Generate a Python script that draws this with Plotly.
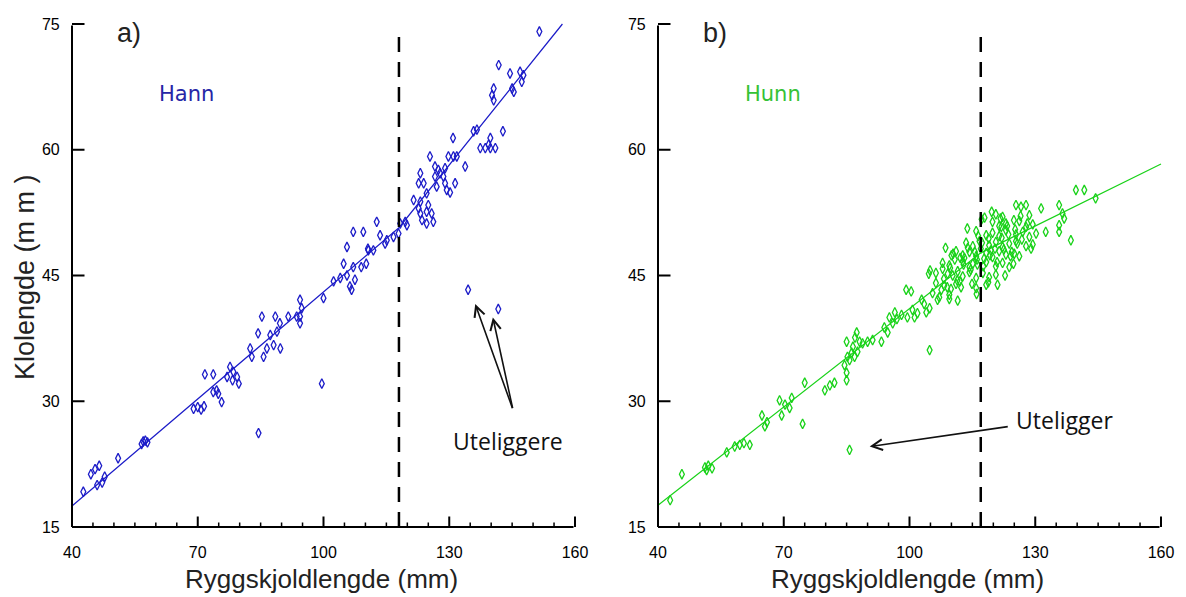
import plotly.graph_objects as go

# ---- Hann (males): carapace length vs claw length ----
hann_x = [42.7, 44.5, 46.5, 47.2, 46.0, 45.5, 47.8, 51.0, 57.0, 57.5, 56.6, 58.0,
          69.0, 70.0, 70.8, 71.5, 73.7, 74.9, 75.7, 74.5, 71.7, 73.7,
          77.7, 78.5, 77.0, 79.4, 79.8, 78.3, 82.5, 82.9,
          84.4, 87.3, 88.9, 85.7, 86.5, 88.1, 89.7,
          85.3, 88.5, 89.6, 91.6, 94.4, 94.4, 94.8, 94.4, 93.6,
          84.5, 99.6,
          100.0, 102.4, 104.0, 105.6, 107.1, 104.8, 106.3, 106.7, 107.5, 109.0, 110.2, 110.6, 105.6,
          107.1, 109.5, 112.7, 113.5, 115.1, 116.7, 117.9, 114.7, 110.7, 111.9,
          118.3, 119.5, 119.9,
          121.5, 123.1, 122.7, 123.1, 124.6, 125.0, 125.8, 123.5, 126.2, 124.6,
          123.1, 123.9, 122.7, 124.6, 127.0, 129.0, 131.4, 129.4, 130.2,
          126.6, 127.4, 129.0, 127.8, 128.6, 126.6,
          125.4, 129.8, 131.0, 131.8, 133.8, 130.9,
          135.8, 136.6, 139.8, 137.4, 138.6, 139.8, 141.0, 139.4, 142.8,
          140.6, 140.2, 140.6, 145.0, 145.4,
          144.5, 147.7, 147.3, 146.9, 141.8, 151.5,
          134.5, 141.7]
hann_y = [19.2, 21.3, 22.3, 20.3, 20.0, 21.9, 21.0, 23.2, 25.2, 25.3, 24.9, 25.1,
          29.1, 29.3, 29.0, 29.4, 31.1, 30.9, 29.9, 31.3, 33.2, 33.2,
          34.1, 33.5, 32.9, 32.9, 32.1, 32.5, 36.3, 35.3,
          38.1, 37.9, 38.3, 35.3, 36.3, 36.7, 36.3,
          40.1, 40.1, 39.3, 40.1, 40.1, 42.1, 41.1, 39.3, 40.1,
          26.2, 32.1,
          42.3, 44.3, 44.7, 45.0, 46.0, 46.4, 43.7, 43.3, 44.5, 46.0, 46.4, 48.2, 48.4,
          50.2, 50.2, 51.4, 49.8, 49.2, 49.6, 50.0, 48.8, 48.0, 48.0,
          51.2, 51.4, 51.0,
          54.0, 53.8, 53.0, 52.4, 52.6, 53.4, 52.4, 51.6, 51.4, 51.2,
          57.2, 56.0, 56.0, 54.8, 55.6, 56.0, 56.0, 55.2, 54.9,
          58.0, 57.6, 57.8, 57.2, 56.8, 56.8,
          59.2, 59.2, 59.2, 59.2, 58.0, 61.4,
          62.2, 62.4, 61.4, 60.2, 60.2, 60.2, 60.2, 60.6, 62.2,
          67.3, 66.5, 65.9, 67.3, 66.9,
          69.1, 68.9, 68.1, 69.3, 70.1, 74.1,
          43.3, 41.0]

# Piecewise fit for Hann, broken at the maturity size
hann_fit_x = [40, 118, 157]
hann_fit_y = [17.5, 50.7, 75.0]
hann_break = 118

# ---- Hunn (females) ----
hunn_x = [42.9, 45.7, 51.2, 52.0, 52.9, 51.6, 56.4, 59.5, 60.5, 61.9, 58.3,
          64.8, 66.0, 65.5, 69.0, 69.5, 71.4, 71.9, 70.3, 74.5,
          75.0, 79.8, 81.0, 82.1, 85.0, 85.0, 84.5, 85.7, 85.2, 86.2,
          85.0, 87.4, 88.1, 88.8, 90.0, 91.2, 93.3, 87.6, 86.9, 86.5, 87.0,
          94.0, 95.2, 94.8, 96.0, 98.1, 99.5, 101.2, 101.9, 100.7, 97.0, 96.5,
          99.2, 100.4, 102.9, 104.8, 105.5, 106.7, 107.6, 109.0, 109.5, 103.5, 104.0,
          104.8, 85.7,
          104.9, 106.3, 107.9, 109.1, 110.3, 111.5, 112.7, 114.3, 115.9, 117.5, 119.0, 120.6,
          107.9, 109.5, 112.7, 114.3, 115.1, 118.3, 120.6, 122.2, 123.8,
          111.1, 112.7, 114.3, 115.9, 118.3, 119.8, 121.4, 123.0, 125.0, 126.2,
          113.5, 115.1, 116.7, 119.0, 120.6, 122.2, 123.8, 125.4, 127.8, 129.4,
          115.9, 118.3, 119.8, 121.4, 123.0, 125.4, 127.0, 128.6, 130.2,
          119.8, 121.4, 123.0, 126.2, 127.8, 129.4,
          120.6, 122.2, 128.6, 125.4, 126.6, 127.8,
          106.3, 108.3, 109.9, 111.1, 112.3, 115.9, 118.3,
          107.1, 109.5, 111.5, 104.6,
          110.8, 113.1, 116.2, 117.0, 117.8, 112.0, 114.9, 116.4, 110.0, 108.6,
          118.8, 121.0, 119.4, 124.4, 122.8, 121.9, 117.2, 113.8, 116.0, 124.8,
          108.2, 109.7, 111.4, 112.9, 114.6, 116.1, 117.6, 119.2, 120.9, 122.5, 124.1, 125.7,
          110.4, 112.1, 113.9, 115.6, 117.3, 118.9, 120.4, 122.0, 123.6, 125.2, 126.8,
          121.7, 123.3, 124.9, 126.5, 128.1, 119.6, 117.9,
          131.4, 135.7, 136.5, 136.9, 135.7, 135.7, 132.5, 138.5, 139.7, 141.7, 144.4, 129.0]
hunn_y = [18.2, 21.3, 22.1, 22.3, 22.0, 21.8, 23.9, 24.8, 25.0, 24.8, 24.6,
          28.3, 27.5, 27.0, 30.1, 28.3, 29.2, 30.4, 29.6, 27.3,
          32.2, 31.3, 31.9, 32.2, 32.5, 33.4, 34.3, 34.9, 35.3, 35.8,
          37.1, 38.2, 37.1, 36.9, 37.1, 37.3, 37.1, 35.9, 35.3, 36.5, 37.6,
          38.8, 40.0, 38.2, 39.3, 40.3, 40.0, 40.0, 40.5, 40.9, 39.8, 40.6,
          43.3, 43.1, 42.1, 41.1, 42.9, 42.1, 43.3, 43.6, 42.7, 41.6, 40.6,
          36.1, 24.2,
          45.6, 45.3, 45.8, 45.2, 45.0, 45.5, 44.9, 45.4, 44.7, 45.3, 44.8, 45.1,
          46.5, 46.2, 46.7, 46.0, 46.4, 46.6, 46.1, 46.5, 46.0,
          47.9, 47.4, 47.8, 47.3, 47.7, 47.2, 47.9, 47.5, 47.6, 47.3,
          48.9, 48.5, 49.1, 48.6, 49.0, 48.4, 48.8, 49.1, 48.5, 48.7,
          50.3, 49.8, 50.1, 49.7, 50.4, 49.9, 50.2, 49.6, 50.0,
          51.4, 50.9, 51.2, 51.5, 50.8, 51.1,
          52.3, 52.0, 52.2, 53.4, 53.2, 53.4,
          44.1, 43.8, 43.4, 44.0, 43.6, 43.5, 43.9,
          42.4, 42.2, 42.0, 45.2,
          46.9, 47.1, 46.3, 48.2, 47.0, 44.3, 44.0, 49.7, 47.4, 48.3,
          44.2, 43.9, 48.0, 47.8, 45.0, 50.8, 51.7, 50.6, 42.8, 46.4,
          44.6, 45.9, 44.4, 46.3, 45.7, 46.9, 46.1, 47.4, 46.6, 48.1, 47.3, 48.8,
          47.6, 47.1, 48.3, 47.8, 48.9, 49.4, 48.2, 49.5, 49.9, 50.5, 49.3,
          51.8, 50.9, 51.6, 52.1, 51.2, 52.6, 51.9,
          53.0, 53.4, 52.4, 51.8, 51.0, 50.2, 50.2, 49.2, 55.2, 55.2, 54.2, 48.2]

# Piecewise fit for Hunn, broken at the maturity size
hunn_fit_x = [40, 117, 160]
hunn_fit_y = [17.6, 47.7, 58.3]
hunn_break = 117

# Axis settings shared by both panels
x_range = [40, 160]
y_range = [15, 75]
x_tick_step, x_minor_step = 30, 5
y_tick_step = 15

BLUE = "#1c1cc8"
GREEN = "#19d219"
TICK_FONT = dict(family="Liberation Sans", size=16, color="black")

W, H = 1186, 597
PLOT_PX = 503.0                       # plot box is 503 x 503 px
left_px = [72, 658]                   # left edge of each plot box
top_px, bottom_px = 24, 527
px_per_x = PLOT_PX / (x_range[1] - x_range[0])
px_per_y = PLOT_PX / (y_range[1] - y_range[0])
PAD = 2.1                             # small px margin around the frame
pad_x, pad_y = PAD / px_per_x, PAD / px_per_y

fig = go.Figure()


def add_panel(xa, ya, xs, ys, fit_x, fit_y, brk, color):
    fig.add_trace(go.Scatter(x=fit_x, y=fit_y, mode="lines",
                             line=dict(color=color, width=1.2), xaxis=xa, yaxis=ya))
    fig.add_trace(go.Scatter(x=xs, y=ys, mode="markers",
                             marker=dict(symbol="diamond-tall-open", size=7, color=color,
                                         line=dict(width=1.3, color=color)),
                             xaxis=xa, yaxis=ya))
    fig.add_trace(go.Scatter(x=[brk, brk], y=[y_range[0], 73.7], mode="lines",
                             line=dict(color="black", width=2.5, dash="15px,10px"),
                             xaxis=xa, yaxis=ya))


add_panel("x", "y", hann_x, hann_y, hann_fit_x, hann_fit_y, hann_break, BLUE)
add_panel("x2", "y2", hunn_x, hunn_y, hunn_fit_x, hunn_fit_y, hunn_break, GREEN)

y_dom = [(H - bottom_px - PAD) / H, (H - top_px + PAD) / H]


def x_axis(left, anchor):
    # transparent outside ticks only set the label distance from the frame
    return dict(domain=[(left - PAD) / W, (left + PLOT_PX + PAD) / W], anchor=anchor,
                range=[x_range[0] - pad_x, x_range[1] + pad_x],
                tickmode="linear", tick0=x_range[0], dtick=x_tick_step,
                showline=False, ticks="outside", ticklen=9, tickcolor="rgba(0,0,0,0)",
                showgrid=False, zeroline=False, tickfont=TICK_FONT, automargin=False)


def y_axis(anchor):
    return dict(domain=y_dom, anchor=anchor,
                range=[y_range[0] - pad_y, y_range[1] + pad_y],
                tickmode="linear", tick0=y_range[0], dtick=y_tick_step,
                showline=False, ticks="outside", ticklen=6, tickcolor="rgba(0,0,0,0)",
                showgrid=False, zeroline=False, tickfont=TICK_FONT, automargin=False)


fig.update_layout(
    width=W, height=H, margin=dict(l=0, r=0, t=0, b=0), showlegend=False,
    paper_bgcolor="white", plot_bgcolor="white", hovermode=False,
    xaxis=x_axis(left_px[0], "y"),
    yaxis=y_axis("x"),
    xaxis2=x_axis(left_px[1], "y2"),
    yaxis2=y_axis("x2"),
)

ann = []


def segment(xr, yr, x0, y0, x1, y1, width):
    # a plain line between two data points, drawn as a headless annotation arrow
    return dict(x=x1, y=y1, ax=x0, ay=y0, xref=xr, yref=yr, axref=xr, ayref=yr,
                text="", showarrow=True, arrowhead=0, arrowwidth=width,
                arrowcolor="black", standoff=0, startstandoff=0, font=dict(size=1))


# axis frame (left and bottom) with inward ticks for both panels
major_x = list(range(x_range[0], x_range[1] + 1, x_tick_step))
minor_x = [v for v in range(x_range[0], x_range[1] + 1, x_minor_step) if v not in major_x]
major_y = list(range(y_range[0], y_range[1] + 1, y_tick_step))
for xr, yr in [("x", "y"), ("x2", "y2")]:
    x0, y0 = x_range[0], y_range[0]
    ann.append(segment(xr, yr, x0, y_range[1], x0, y0, 2))
    ann.append(segment(xr, yr, x_range[1], y0, x0, y0, 2))
    for v in major_x:
        ann.append(segment(xr, yr, v, y0 + 12 / px_per_y, v, y0, 2))
    for v in minor_x:
        ann.append(segment(xr, yr, v, y0 + 6 / px_per_y, v, y0, 1.5))
    for v in major_y:
        ann.append(segment(xr, yr, x0 + 14 / px_per_x, v, x0, v, 2))

# panel letters and group names
for xr, yr, letter, name, col in [("x", "y", "a)", "Hann", "#2626a6"),
                                  ("x2", "y2", "b)", "Hunn", "#36c236")]:
    ann.append(dict(x=50.3, y=73.9, xref=xr, yref=yr, text=letter, showarrow=False,
                    xanchor="left", yanchor="middle",
                    font=dict(family="Liberation Sans", size=27, color="#222")))
    ann.append(dict(x=67.4, y=66.6, xref=xr, yref=yr, text=name, showarrow=False,
                    xanchor="center", yanchor="middle",
                    font=dict(family="DejaVu Sans", size=21, color=col)))

# axis titles
for cx in [321, 907]:
    ann.append(dict(x=cx / W, y=(H - 579) / H, xref="paper", yref="paper",
                    text="Ryggskjoldlengde (mm)", showarrow=False,
                    xanchor="center", yanchor="middle",
                    font=dict(family="Liberation Sans", size=26, color="#222")))
ann.append(dict(x=25 / W, y=(H - 277) / H, xref="paper", yref="paper",
                text="Klolengde (m m )", showarrow=False, textangle=-90,
                xanchor="center", yanchor="middle",
                font=dict(family="Liberation Sans", size=27, color="#222")))

# outlier call-outs
CALL_FONT = dict(family="Open Sans", size=23, color="#111")
ann.append(dict(x=144.0, y=25.2, xref="x", yref="y", text="Uteliggere", showarrow=False,
                xanchor="center", yanchor="middle", font=CALL_FONT))
for tip in [(136.2, 41.6), (140.4, 40.0)]:
    ann.append(dict(x=tip[0], y=tip[1], xref="x", yref="y", ax=145.2, ay=29.0,
                    axref="x", ayref="y", text="", showarrow=True, arrowhead=5,
                    arrowsize=1.3, arrowwidth=1.6, arrowcolor="#111"))
ann.append(dict(x=125.0, y=27.8, xref="x2", yref="y2", text="Uteligger", showarrow=False,
                xanchor="left", yanchor="middle", font=CALL_FONT))
ann.append(dict(x=90.5, y=24.6, xref="x2", yref="y2", ax=123.8, ay=27.0,
                axref="x2", ayref="y2", text="", showarrow=True, arrowhead=5,
                arrowsize=1.3, arrowwidth=1.6, arrowcolor="#111"))

fig.update_layout(annotations=ann)
fig.write_html("out.html")
